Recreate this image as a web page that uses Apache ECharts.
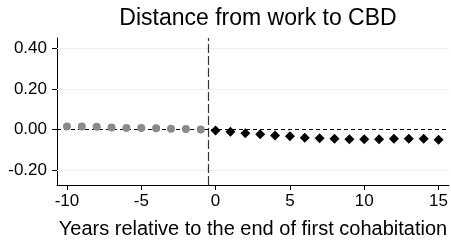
<!DOCTYPE html>
<html>
<head>
<meta charset="utf-8">
<script src="https://cdn.jsdelivr.net/npm/echarts@6/dist/echarts.min.js"></script>
<style>
  html, body { margin: 0; padding: 0; background: #fff; }
  #chart { width: 451px; height: 244px; }
</style>
</head>
<body>
<div id="chart"></div>
<script>
    // years relative to end of first cohabitation
    var preYears = [-10, -9, -8, -7, -6, -5, -4, -3, -2, -1];
    var preValues = [0.015, 0.015, 0.013, 0.010, 0.007, 0.007, 0.006, 0.004, 0.002, 0.000];
    var postYears = [0, 1, 2, 3, 4, 5, 6, 7, 8, 9, 10, 11, 12, 13, 14, 15];
    var postValues = [-0.005, -0.011, -0.018, -0.024, -0.029, -0.033, -0.040, -0.043,
                      -0.045, -0.048, -0.048, -0.048, -0.046, -0.046, -0.046, -0.051];
    var xTicks = [-10, -5, 0, 5, 10, 15];
    var yTicks = [-0.2, 0, 0.2, 0.4];
    var gridLines = [-0.2, 0.2, 0.4];

    var font = 'Liberation Sans, Arial, sans-serif';
    var chart = echarts.init(document.getElementById('chart'));

    function pairs(xs, ys) {
        return xs.map(function (x, i) { return [x, ys[i]]; });
    }

    var option = {
        animation: false,
        title: {
            text: 'Distance from work to CBD',
            left: 253, top: 2, textAlign: 'center',
            textStyle: { fontFamily: font, fontSize: 23, fontWeight: 'normal', color: '#000' }
        },
        grid: { left: 57, right: 0, top: 38, bottom: 55 },
        xAxis: {
            type: 'value', min: -10.67, max: 15.7,
            name: 'Years relative to the end of first cohabitation',
            nameLocation: 'middle', nameGap: 34,
            nameTextStyle: { fontFamily: font, fontSize: 20, color: '#000' },
            axisLine: { show: true, onZero: false, lineStyle: { color: '#000', width: 1 } },
            axisTick: { show: true, length: 5, customValues: xTicks, lineStyle: { color: '#000' } },
            axisLabel: { customValues: xTicks, fontFamily: font, fontSize: 17, color: '#000', margin: 8 },
            splitLine: { show: false }
        },
        yAxis: {
            type: 'value', min: -0.273, max: 0.45,
            axisLine: { show: true, onZero: false, lineStyle: { color: '#000', width: 1 } },
            axisTick: { show: true, length: 5, customValues: yTicks, lineStyle: { color: '#000' } },
            axisLabel: {
                customValues: yTicks, fontFamily: font, fontSize: 17, color: '#000', margin: 10,
                formatter: function (v) { return v.toFixed(2); }
            },
            splitLine: { show: false }
        },
        series: [
            {
                type: 'scatter', name: 'pre',
                data: pairs(preYears, preValues),
                symbol: 'circle', symbolSize: 8,
                itemStyle: { color: '#8a8a8a', opacity: 1 },
                z: 5,
                markLine: {
                    silent: true, symbol: 'none', label: { show: false },
                    data: gridLines.map(function (v) {
                        return { yAxis: v, lineStyle: { color: '#e8f0f2', width: 1, type: 'solid' } };
                    }).concat([
                        { yAxis: 0, lineStyle: { color: '#000', width: 1.2, type: [4, 3] } },
                        { xAxis: -0.5, lineStyle: { color: '#333', width: 1.2, type: [9, 3] } }
                    ])
                }
            },
            {
                type: 'scatter', name: 'post',
                data: pairs(postYears, postValues),
                symbol: 'diamond', symbolSize: 10,
                itemStyle: { color: '#000', opacity: 1 },
                z: 5
            }
        ]
    };
    chart.setOption(option);
</script>
</body>
</html>
